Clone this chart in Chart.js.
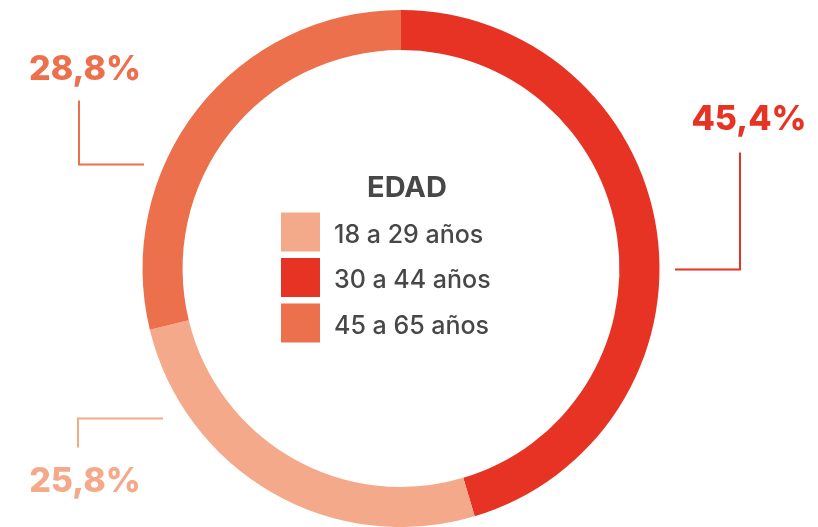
<!DOCTYPE html>
<html>
<head>
<meta charset="utf-8">
<script src="https://cdn.jsdelivr.net/npm/chart.js@4"></script>
<style>
  html, body { margin: 0; padding: 0; background: #fff; }
  #wrap { width: 818px; height: 527px; position: relative; }
</style>
</head>
<body>
<div id="wrap"><canvas id="donut" width="818" height="527"></canvas></div>
<script>
// legend order
var categories = ['18 a 29 años', '30 a 44 años', '45 a 65 años'];
var values = [25.8, 45.4, 28.8];
var colors = ['#f4a98a', '#e63323', '#ec704b'];
var title = 'EDAD';
// clockwise from the top: red, salmon, orange
var drawOrder = [1, 0, 2];

var textGray = '#474747';

function fmt(v) {
  return v.toFixed(1).replace('.', ',') + '%';
}

// leader lines + value labels, relative to chart centre (keyed by category index)
var callouts = {
  1: { pts: [[274, 1], [339, 1], [339, -116]], tx: 348, ty: -139 },
  2: { pts: [[-257, -104], [-322, -104], [-322, -168]], tx: -316, ty: -189 },
  0: { pts: [[-238, 150], [-323, 150], [-323, 179]], tx: -316, ty: 223 }
};

var overlay = {
  id: 'overlay',
  afterDatasetsDraw: function(chart) {
    var ctx = chart.ctx;
    var arc = chart.getDatasetMeta(0).data[0];
    var cx = arc.x, cy = arc.y;
    ctx.save();

    // callouts
    Object.keys(callouts).forEach(function(k) {
      var c = callouts[k];
      var col = colors[k];
      ctx.strokeStyle = col;
      ctx.lineWidth = 2;
      ctx.beginPath();
      c.pts.forEach(function(p, i) {
        if (i == 0) ctx.moveTo(cx + p[0], cy + p[1]);
        else ctx.lineTo(cx + p[0], cy + p[1]);
      });
      ctx.stroke();
      ctx.fillStyle = col;
      ctx.font = '800 34px Inter';
      ctx.textAlign = 'center';
      ctx.textBaseline = 'alphabetic';
      ctx.fillText(fmt(values[k]), cx + c.tx, cy + c.ty);
    });

    // centre legend
    ctx.fillStyle = textGray;
    ctx.font = 'bold 29px Inter';
    ctx.textAlign = 'center';
    ctx.fillText(title, cx + 6, cy - 72);
    ctx.textAlign = 'left';
    ctx.font = '500 25px Inter';
    for (var i = 0; i < categories.length; i++) {
      var top = cy - 56 + i * 45.5;
      ctx.fillStyle = colors[i];
      ctx.fillRect(cx - 120, top, 39, 39);
      ctx.fillStyle = textGray;
      ctx.fillText(categories[i], cx - 67, top + 30);
    }
    ctx.restore();
  }
};

var donut = document.getElementById('donut').getContext('2d');
var myChart = new Chart(donut, {
  type: 'doughnut',
  data: {
    labels: drawOrder.map(function(i) { return categories[i]; }),
    datasets: [
      {
        data: drawOrder.map(function(i) { return values[i]; }),
        backgroundColor: drawOrder.map(function(i) { return colors[i]; }),
        borderWidth: 0
      }
    ]
  },
  options: {
    responsive: false,
    animation: false,
    cutout: '84.5%',
    layout: {
      padding: { left: 142, right: 158, top: 10, bottom: 0 }
    },
    plugins: {
      legend: { display: false },
      tooltip: { enabled: false }
    }
  },
  plugins: [overlay]
});
</script>
</body>
</html>
